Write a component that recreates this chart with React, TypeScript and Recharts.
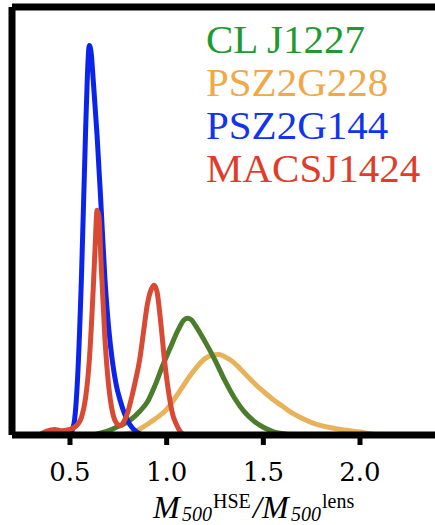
import { LineChart, Line, XAxis, YAxis, ReferenceLine } from 'recharts';

// density curves (x = M_HSE / M_lens, y = % of plot height)
const orangeX = [0.76, 0.8, 0.84, 0.88, 0.92, 0.96, 1.0, 1.04, 1.08, 1.12, 1.16, 1.2, 1.24, 1.27, 1.3, 1.34, 1.38, 1.42, 1.46, 1.5, 1.55, 1.6, 1.65, 1.7, 1.75, 1.8, 1.85, 1.9, 1.95, 2.0, 2.05, 2.1];
const orangeY = [0, 0.3, 0.9, 1.9, 3.1, 4.4, 6.0, 8.4, 11.1, 13.8, 16.1, 17.9, 18.7, 18.8, 18.3, 17.2, 15.5, 13.6, 11.8, 10.2, 8.3, 6.7, 5.1, 3.9, 2.9, 2.2, 1.7, 1.3, 1.0, 0.7, 0.3, 0];

const greenX = [0.62, 0.66, 0.7, 0.74, 0.78, 0.82, 0.86, 0.9, 0.94, 0.98, 1.02, 1.06, 1.09, 1.11, 1.13, 1.15, 1.2, 1.25, 1.3, 1.35, 1.4, 1.45, 1.5, 1.55, 1.6, 1.65];
const greenY = [0, 0.5, 1.0, 1.8, 2.6, 3.8, 5.5, 7.7, 11.6, 16.3, 20.5, 24.6, 26.9, 27.3, 26.8, 25.5, 21.7, 17.5, 12.8, 8.7, 5.5, 3.3, 1.8, 0.8, 0.3, 0];

const blueX = [0.45, 0.5, 0.52, 0.54, 0.56, 0.58, 0.59, 0.6, 0.61, 0.62, 0.64, 0.66, 0.68, 0.7, 0.72, 0.74, 0.76, 0.78, 0.8, 0.82, 0.84, 0.86, 0.88];
const blueY = [0, 0.3, 2.5, 14, 38, 70, 84, 91, 89, 83, 70, 54, 37, 25, 17, 11.5, 8, 5.2, 3.2, 1.8, 0.9, 0.3, 0];

const redX = [0.34, 0.38, 0.42, 0.46, 0.5, 0.54, 0.56, 0.58, 0.6, 0.62, 0.63, 0.64, 0.65, 0.66, 0.68, 0.7, 0.72, 0.74, 0.76, 0.78, 0.8, 0.82, 0.84, 0.86, 0.88, 0.9, 0.92, 0.935, 0.95, 0.97, 0.99, 1.01, 1.03, 1.05, 1.07, 1.09];
const redY = [0, 0.9, 1.3, 1.0, 1.3, 2.5, 4.2, 8.5, 17.5, 34, 44, 52.5, 51, 41, 23, 11.5, 5.3, 2.8, 2.2, 3.2, 5.5, 9, 13, 17.5, 24, 30.5, 34, 35, 33.5, 26, 17, 10, 5, 2.5, 0.8, 0];

const xTicks = [0.5, 1.0, 1.5, 2.0];

const series = [
  { name: 'PSZ2G228', xs: orangeX, ys: orangeY, line: '#e8b25a' },
  { name: 'CL J1227', xs: greenX, ys: greenY, line: '#4b7d2c' },
  { name: 'PSZ2G144', xs: blueX, ys: blueY, line: '#0a24ec' },
  { name: 'MACSJ1424', xs: redX, ys: redY, line: '#d84a33' },
];

const legendItems = [
  { name: 'CL J1227', color: '#1f9a30' },
  { name: 'PSZ2G228', color: '#f0a848' },
  { name: 'PSZ2G144', color: '#1234ee' },
  { name: 'MACSJ1424', color: '#e03c2c' },
];

const zip = (xs: number[], ys: number[]) => xs.map((x, i) => ({ x, y: ys[i] }));

const serif = "'Liberation Serif'";

const AxisTitle = () => (
  <g>
    <text fontFamily={serif} fill="#000">
      <tspan x={153} y={518} fontSize={32} fontStyle="italic">M</tspan>
      <tspan x={182} y={521} fontSize={21} fontStyle="italic" textLength={30} lengthAdjust="spacingAndGlyphs">500</tspan>
      <tspan x={213} y={508} fontSize={20}>HSE</tspan>
      <tspan x={253} y={518} fontSize={32} fontStyle="italic">/</tspan>
      <tspan x={262} y={518} fontSize={32} fontStyle="italic">M</tspan>
      <tspan x={291} y={521} fontSize={21} fontStyle="italic" textLength={30} lengthAdjust="spacingAndGlyphs">500</tspan>
      <tspan x={322} y={508} fontSize={20}>lens</tspan>
    </text>
    {legendItems.map((it, i) => (
      <text key={it.name} x={206} y={53 + i * 43} fontFamily={serif} fontSize={41} fill={it.color}>
        {it.name}
      </text>
    ))}
  </g>
);

export default function App() {
  return (
    <div style={{ position: 'absolute', left: 0, top: 0, width: 435, height: 525, overflow: 'hidden', background: '#fff' }}>
      <LineChart width={460} height={525} margin={{ top: 7, right: 13, bottom: 0, left: 12 }}>
        <XAxis
          type="number"
          dataKey="x"
          domain={[0.2, 2.45]}
          ticks={xTicks}
          tickFormatter={(v) => v.toFixed(1)}
          height={90}
          axisLine={{ stroke: '#000', strokeWidth: 7 }}
          tickLine={{ stroke: '#000', strokeWidth: 5 }}
          tickSize={10}
          tickMargin={18}
          tick={{ fill: '#000', fontSize: 26, fontFamily: 'DejaVu Serif' }}
          label={{ content: () => <AxisTitle /> }}
          allowDataOverflow
        />
        <YAxis type="number" domain={[0, 100]} hide allowDataOverflow />
        <ReferenceLine y={100} stroke="#000" strokeWidth={7} />
        <ReferenceLine x={0.2} stroke="#000" strokeWidth={7} />
        {series.map((s) => (
          <Line
            key={s.name}
            data={zip(s.xs, s.ys)}
            dataKey="y"
            name={s.name}
            type="monotone"
            stroke={s.line}
            strokeWidth={5}
            dot={false}
            activeDot={false}
            isAnimationActive={false}
          />
        ))}
      </LineChart>
    </div>
  );
}
